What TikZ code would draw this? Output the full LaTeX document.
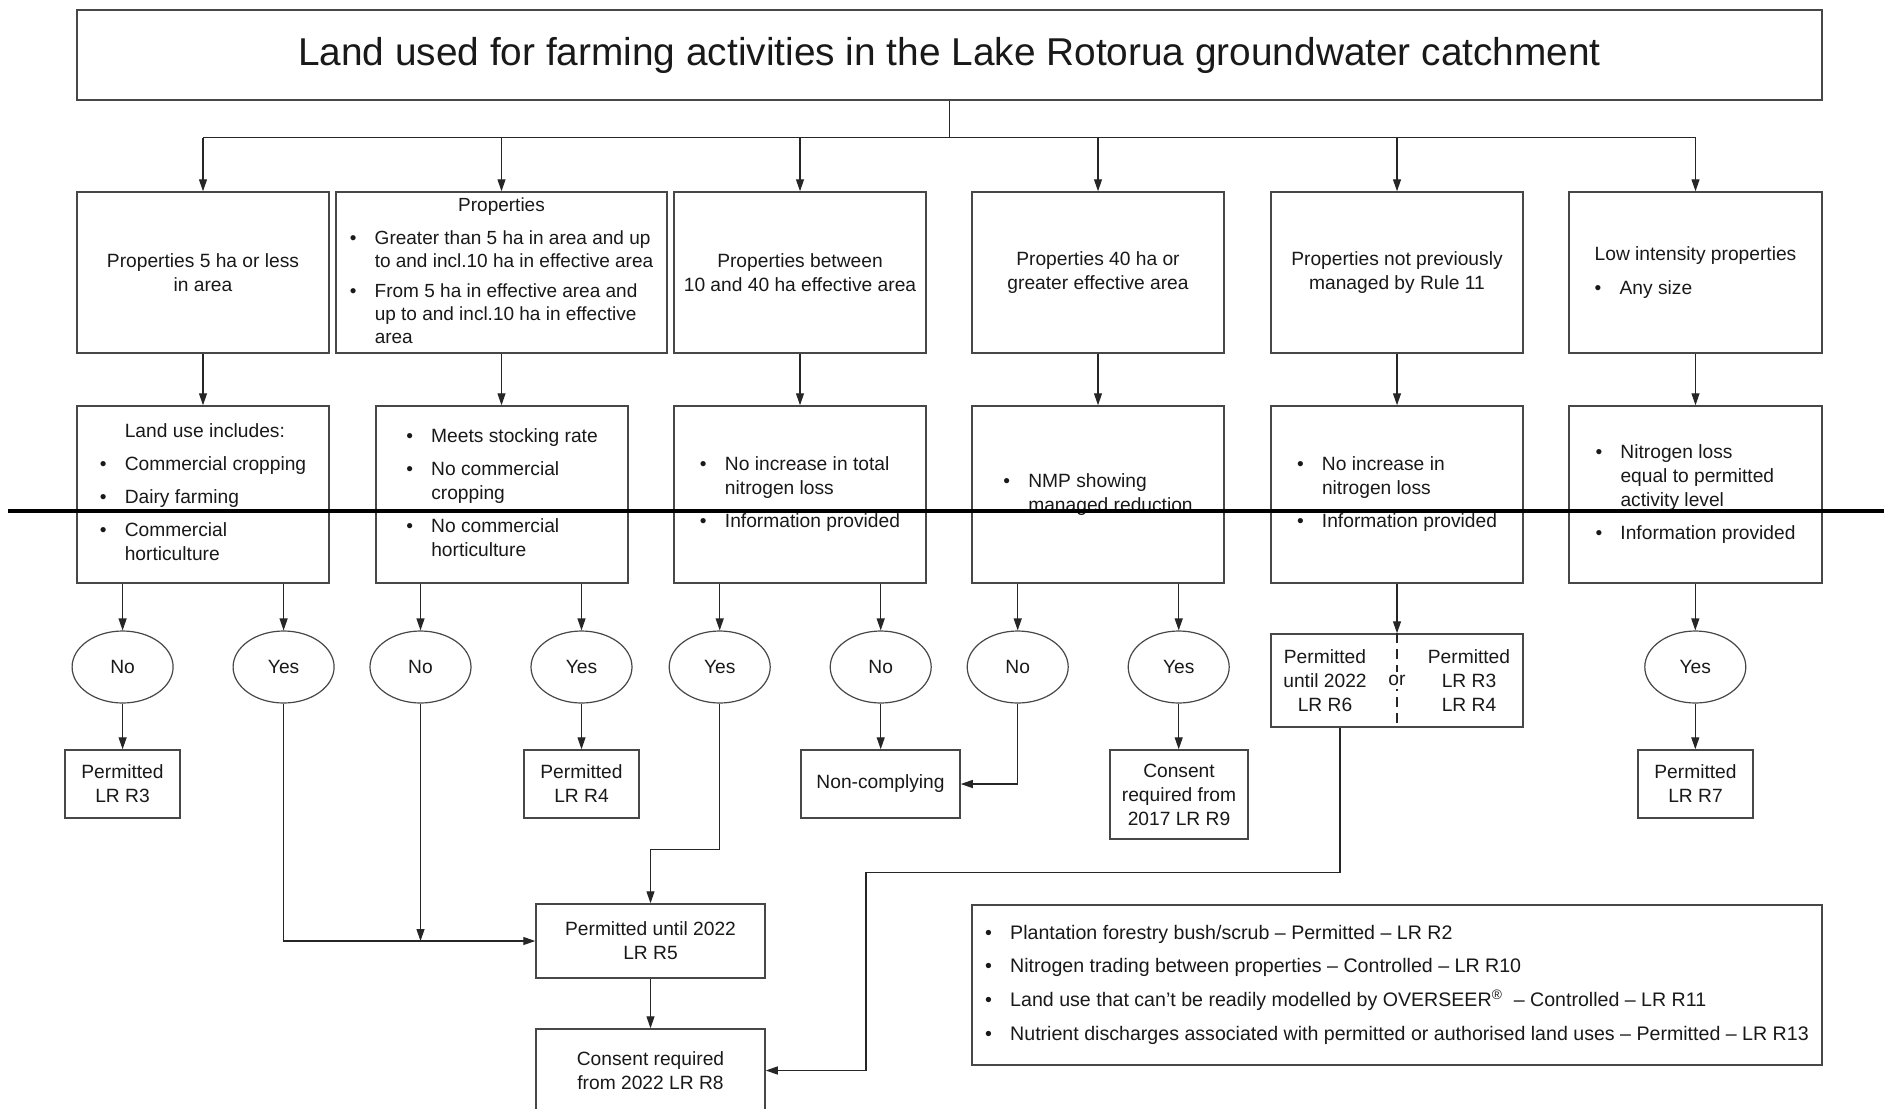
\documentclass[tikz,border=0pt]{standalone}
\usepackage{fontspec}
\setmainfont{Liberation Sans}
\usetikzlibrary{shapes.geometric,arrows.meta,calc}
\newcommand{\fs}{\fontsize{9.6}{12}\selectfont}
\newcommand{\bl}{\makebox[12.5pt][l]{•}}
\begin{document}
\begin{tikzpicture}[x=0.5pt,y=-0.5pt,
  every node/.style={text=black!90},
  box/.style={draw=black!72, line width=0.75pt, inner sep=0pt, font=\fs},
  ell/.style={draw=black!72, line width=0.6pt, ellipse, minimum width=50.5pt, minimum height=36pt, inner sep=0pt, font=\fs},
  con/.style={draw=black!85, line width=0.6pt},
  arr/.style={con, -{Triangle[length=6pt,width=4pt]}},
  lbl/.style={font=\fs, align=center, inner sep=0pt}
]
\fill[white] (0,0) rectangle (1884,1108);
\useasboundingbox (0,0) rectangle (1884,1108);

% title
\node[box, minimum width=872.5pt, minimum height=45pt, font=\fontsize{19.4}{23}\selectfont] (top) at (949.5,55) {Land used for farming activities in the Lake Rotorua groundwater catchment};

% row 1
\node[box, align=center, minimum width=126pt, minimum height=80.5pt] (p1) at (203,272.5) {Properties 5 ha or less\\in area};
\node[box, minimum width=165.5pt, minimum height=80.5pt, font=\fontsize{9.5}{11.4}\selectfont] (p2) at (501.5,272.5) {\begin{tabular}{@{}l@{}l@{}}
\multicolumn{2}{@{}c@{}}{Properties}\\[5.4pt]
\bl & Greater than 5 ha in area and up\\
 & to and incl.10 ha in effective area\\[3.6pt]
\bl & From 5 ha in effective area and\\
 & up to and incl.10 ha in effective\\
 & area
\end{tabular}};
\node[box, align=center, minimum width=126pt, minimum height=80.5pt] (p3) at (800,272.5) {Properties between\\10 and 40 ha effective area};
\node[box, align=center, minimum width=126pt, minimum height=80.5pt] (p4) at (1098,272.5) {Properties 40 ha or\\greater effective area};
\node[box, align=center, minimum width=126pt, minimum height=80.5pt] (p5) at (1397,272.5) {Properties not previously\\managed by Rule 11};
\node[box, minimum width=126.5pt, minimum height=80.5pt] (p6) at (1695.5,272.5) {\begin{tabular}{@{}l@{}l@{}}
\multicolumn{2}{@{}l@{}}{Low intensity properties}\\[4.8pt]
\bl & Any size
\end{tabular}};

% row 2
\node[box, minimum width=126pt, minimum height=88.5pt] (c1) at (203,494.5) {\begin{tabular}{@{}l@{}l@{}}
 & Land use includes:\\[4.5pt]
\bl & Commercial cropping\\[4.5pt]
\bl & Dairy farming\\[4.5pt]
\bl & Commercial\\
 & horticulture
\end{tabular}};
\node[box, minimum width=126pt, minimum height=88.5pt] (c2) at (502,494.5) {\begin{tabular}{@{}l@{}l@{}}
\bl & Meets stocking rate\\[4.5pt]
\bl & No commercial\\
 & cropping\\[4.5pt]
\bl & No commercial\\
 & horticulture
\end{tabular}};
\node[box, minimum width=126pt, minimum height=88.5pt] (c3) at (800,494.5) {\begin{tabular}{@{}l@{}l@{}}
\bl & No increase in total\\
 & nitrogen loss\\[4.5pt]
\bl & Information provided
\end{tabular}};
\node[box, minimum width=126pt, minimum height=88.5pt] (c4) at (1098,494.5) {\begin{tabular}{@{}l@{}l@{}}
\bl & NMP showing\\
 & managed reduction
\end{tabular}};
\node[box, minimum width=126pt, minimum height=88.5pt] (c5) at (1397,494.5) {\begin{tabular}{@{}l@{}l@{}}
\bl & No increase in\\
 & nitrogen loss\\[4.5pt]
\bl & Information provided
\end{tabular}};
\node[box, minimum width=126.5pt, minimum height=88.5pt] (c6) at (1695.5,494.5) {\begin{tabular}{@{}l@{}l@{}}
\bl & Nitrogen loss\\
 & equal to permitted\\
 & activity level\\[4.5pt]
\bl & Information provided
\end{tabular}};

% decisions
\node[ell] (e1) at (122.6,667) {No};
\node[ell] (e2) at (283.6,667) {Yes};
\node[ell] (e3) at (420.5,667) {No};
\node[ell] (e4) at (581.5,667) {Yes};
\node[ell] (e5) at (719.7,667) {Yes};
\node[ell] (e6) at (880.7,667) {No};
\node[ell] (e7) at (1017.7,667) {No};
\node[ell] (e8) at (1178.7,667) {Yes};
\node[ell] (e9) at (1695.3,667) {Yes};

% permitted / or box
\node[box, minimum width=126pt, minimum height=46.5pt] (pr) at (1397,680.5) {};
\draw[con, dash pattern=on 5pt off 3pt] (pr.north) -- (pr.south);
\node[fill=white, font=\fs, inner sep=1.5pt] (or) at (pr.center) {or};
\node[lbl] (prl) at (1325,680.5) {Permitted\\until 2022\\LR R6};
\node[lbl] (prr) at (1469,680.5) {Permitted\\LR R3\\LR R4};

% results
\node[box, align=center, minimum width=57.5pt, minimum height=34pt] (r3) at (122.5,784) {Permitted\\LR R3};
\node[box, align=center, minimum width=57.5pt, minimum height=34pt] (r4) at (581.5,784) {Permitted\\LR R4};
\node[box, align=center, minimum width=79.5pt, minimum height=34pt] (nc) at (880.5,784) {Non-complying};
\node[box, align=center, minimum width=69pt, minimum height=44.5pt] (r9) at (1179,794.5) {Consent\\required from\\2017 LR R9};
\node[box, align=center, minimum width=57.5pt, minimum height=34pt] (r7) at (1695.5,784) {Permitted\\LR R7};
\node[box, align=center, minimum width=114.5pt, minimum height=37pt] (r5) at (650.5,941) {Permitted until 2022\\LR R5};
\node[box, align=center, minimum width=114.5pt, minimum height=41.5pt] (r8) at (650.5,1070.5) {Consent required\\from 2022 LR R8};

% notes
\node[box, minimum width=425pt, minimum height=80pt, font=\fontsize{9.8}{12}\selectfont] (notes) at (1397,985) {\begin{tabular}{@{}l@{}l@{}}
\bl & Plantation forestry bush/scrub – Permitted – LR R2\\[4.8pt]
\bl & Nitrogen trading between properties – Controlled – LR R10\\[4.8pt]
\bl & Land use that can’t be readily modelled by OVERSEER\textsuperscript{®}\ \ – Controlled – LR R11\\[4.8pt]
\bl & Nutrient discharges associated with permitted or authorised land uses – Permitted – LR R13
\end{tabular}};

% connectors: title to row 1
\draw[con] (top.south) -- ++(0,37) coordinate (bus);
\draw[con] (p1.north |- bus) -- (p6.north |- bus);
\foreach \n in {p1,p2,p3,p4,p5,p6} \draw[arr] (\n.north |- bus) -- (\n.north);
% row 1 to row 2
\draw[arr] (p1.south) -- (p1.south |- c1.north);
\draw[arr] (p2.south) -- (p2.south |- c2.north);
\draw[arr] (p3.south) -- (p3.south |- c3.north);
\draw[arr] (p4.south) -- (p4.south |- c4.north);
\draw[arr] (p5.south) -- (p5.south |- c5.north);
\draw[arr] (p6.south) -- (p6.south |- c6.north);
% row 2 to decisions
\draw[arr] (c1.south -| e1) -- (e1.north);
\draw[arr] (c1.south -| e2) -- (e2.north);
\draw[arr] (c2.south -| e3) -- (e3.north);
\draw[arr] (c2.south -| e4) -- (e4.north);
\draw[arr] (c3.south -| e5) -- (e5.north);
\draw[arr] (c3.south -| e6) -- (e6.north);
\draw[arr] (c4.south -| e7) -- (e7.north);
\draw[arr] (c4.south -| e8) -- (e8.north);
\draw[arr] (c6.south -| e9) -- (e9.north);
\draw[arr] (c5.south) -- (c5.south |- pr.north);
% decisions to results
\draw[arr] (e1.south) -- (e1.south |- r3.north);
\draw[arr] (e4.south) -- (e4.south |- r4.north);
\draw[arr] (e6.south) -- (e6.south |- nc.north);
\draw[arr] (e8.south) -- (e8.south |- r9.north);
\draw[arr] (e9.south) -- (e9.south |- r7.north);
\draw[arr] (e2.south) |- (r5.west);
\draw[arr] (e3.south) -- (e3.south |- r5.west);
\draw[arr] (e5.south) -- ++(0,146) -| (r5.north);
\draw[arr] (e7.south) |- (nc.east);
\draw[arr] (r5.south) -- (r8.north);
\draw[arr] ([xshift=-28.5pt]pr.south) -- ++(0,145) -- ++(-474,0) |- (r8.east);

% thick rule across the page
\draw[line width=2pt, black] (8,511) -- (1884,511);
\end{tikzpicture}
\end{document}
